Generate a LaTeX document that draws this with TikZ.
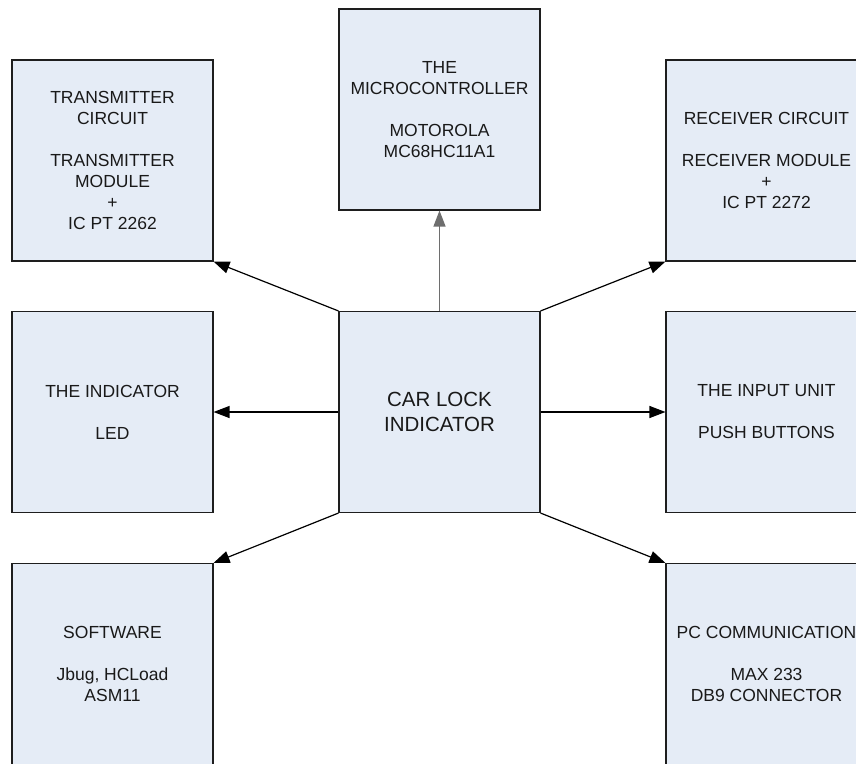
\documentclass[tikz,border=0pt]{standalone}
\usepackage{fontspec}
\setmainfont{Liberation Sans}
\usetikzlibrary{arrows.meta}
\definecolor{boxfill}{RGB}{229,236,246}
\definecolor{boxline}{RGB}{30,30,30}
\definecolor{midgray}{RGB}{110,110,110}
\tikzset{
  blk/.style={draw=boxline, line width=1.1pt, fill=boxfill, minimum width=201pt, minimum height=201pt,
    inner sep=0pt, align=center, text=black!90, font=\fontsize{17.5}{21}\selectfont},
  arr/.style={-{Triangle[length=16pt,width=12pt]}, line width=1.2pt, draw=black},
}
\begin{document}
\begin{tikzpicture}[x=1pt,y=-1pt]
\clip (0,0) rectangle (856,763);
\fill[white] (0,0) rectangle (856,763);
\node[blk] (trans) at (112.5,160.5) {TRANSMITTER\\CIRCUIT\\[21pt]TRANSMITTER\\MODULE\\+\\IC PT 2262};
\node[blk] (micro) at (439.5,109.5) {THE\\MICROCONTROLLER\\[21pt]MOTOROLA\\MC68HC11A1};
\node[blk] (recv) at (766.5,160.5) {RECEIVER CIRCUIT\\[21pt]RECEIVER MODULE\\+\\IC PT 2272};
\node[blk] (ind) at (112.5,412) {THE INDICATOR\\[21pt]LED};
\node[blk, font=\fontsize{20.5}{25}\selectfont] (car) at (439.5,412) {CAR LOCK\\INDICATOR};
\node[blk] (inp) at (766.5,412) {THE INPUT UNIT\\[21pt]PUSH BUTTONS};
\node[blk] (soft) at (112.5,664) {SOFTWARE\\[21pt]Jbug, HCLoad\\ASM11};
\node[blk] (pc) at (766.5,664) {PC COMMUNICATION\\[21pt]MAX 233\\DB9 CONNECTOR};
\draw[arr] (car.north west) -- (trans.south east);
\draw[arr, draw=midgray] (car.north) -- (micro.south);
\draw[arr] (car.north east) -- (recv.south west);
\draw[arr] (car.west) -- (ind.east);
\draw[arr] (car.east) -- (inp.west);
\draw[arr] (car.south west) -- (soft.north east);
\draw[arr] (car.south east) -- (pc.north west);
\end{tikzpicture}
\end{document}
